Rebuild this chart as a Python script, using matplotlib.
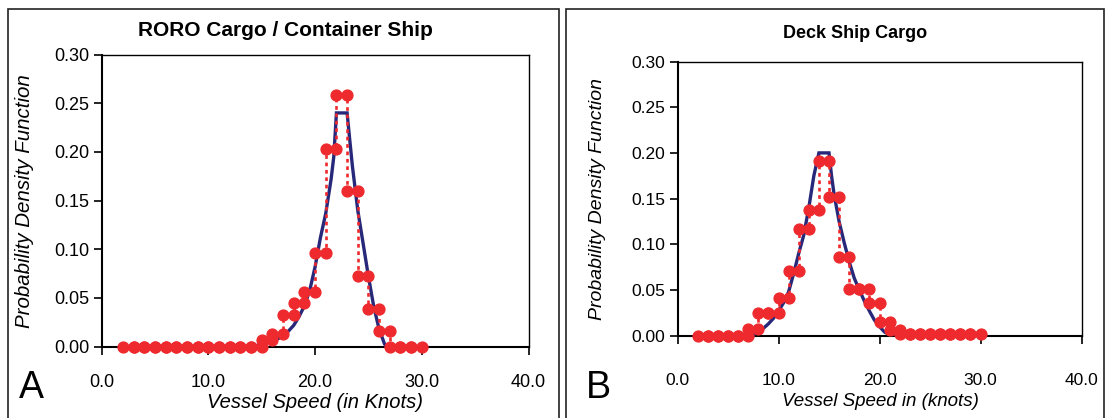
import numpy as np
import matplotlib
matplotlib.use("Agg")
import matplotlib.pyplot as plt
import matplotlib.patches as mpatches

plt.rcParams['font.family'] = ['Liberation Sans', 'DejaVu Sans']

# bin edges (knots) and observed densities per 1-knot bin
bin_left = np.arange(2, 30)

# A: RORO cargo / container ship
obs_A = [0, 0, 0, 0, 0, 0, 0, 0, 0, 0, 0, 0, 0,
         0.007, 0.0135, 0.0325, 0.045, 0.0565, 0.0965, 0.203, 0.258,
         0.160, 0.0726, 0.039, 0.0164, 0, 0, 0]
fit_x_A = [13.5, 14.0, 15.0, 15.5, 16.0, 16.5, 17.0, 17.5, 18.0, 18.5, 19.0,
           19.5, 20.0, 20.5, 21.0, 21.5, 21.75, 22.0, 22.5, 23.0, 23.25,
           23.5, 24.0, 24.5, 25.0, 25.5, 26.0, 26.5, 26.7]
fit_y_A = [0.0, 0.0005, 0.002, 0.004, 0.006, 0.008, 0.011, 0.016, 0.022,
           0.031, 0.042, 0.058, 0.082, 0.112, 0.137, 0.172, 0.195, 0.240,
           0.240, 0.240, 0.212, 0.185, 0.140, 0.106, 0.072, 0.041, 0.018,
           0.003, 0.0]

# B: deck ship cargo
obs_B = [0, 0, 0, 0, 0, 0.0073, 0.0245, 0.0245, 0.0415, 0.0707, 0.1166,
         0.1374, 0.191, 0.152, 0.0863, 0.0507, 0.0507, 0.0354, 0.0145,
         0.0062, 0.0015, 0.0015, 0.0015, 0.0015, 0.0015, 0.0015, 0.0015,
         0.0015]
fit_x_B = [7.0, 7.5, 8.0, 8.5, 9.0, 9.5, 10.0, 10.5, 11.0, 11.5, 12.0, 12.5,
           13.0, 13.5, 14.0, 14.5, 15.0, 15.25, 15.5, 16.0, 16.5, 17.0, 17.5,
           18.0, 18.5, 19.0, 19.5, 20.0, 20.5, 21.0, 21.3]
fit_y_B = [0.0, 0.001, 0.004, 0.008, 0.013, 0.019, 0.027, 0.036, 0.048,
           0.068, 0.090, 0.110, 0.140, 0.175, 0.200, 0.200, 0.200, 0.175,
           0.155, 0.125, 0.102, 0.081, 0.063, 0.050, 0.038, 0.027, 0.017,
           0.010, 0.004, 0.001, 0.0]

x_ticks = [0, 10, 20, 30, 40]
y_ticks = [0.0, 0.05, 0.10, 0.15, 0.20, 0.25, 0.30]

RED = '#EE2A2E'
NAVY = '#27287A'
W, H = 1110, 418


def steps(edges, vals):
    xs, ys = [], []
    for x0, v in zip(edges, vals):
        xs += [x0, x0 + 1]
        ys += [v, v]
    return xs, ys


def draw_panel(ax, obs, fx, fy, fs_tick, pad_x):
    ax.plot(fx, fy, color=NAVY, lw=2.4, zorder=3, solid_joinstyle='miter')
    sx, sy = steps(bin_left, obs)
    ax.plot(sx, sy, color=RED, lw=1.9, ls=(0, (1.4, 1.4)), marker='o',
            ms=7.8, mec=RED, mfc=RED, zorder=4, clip_on=False)
    ax.set_xlim(0, 40)
    ax.set_ylim(0, 0.30)
    ax.set_xticks(x_ticks)
    ax.set_xticklabels([f'{v:.1f}' for v in x_ticks])
    ax.set_yticks(y_ticks)
    ax.set_yticklabels([f'{v:.2f}' for v in y_ticks])
    ax.tick_params(axis='both', direction='out', length=6, width=1.2,
                   labelsize=fs_tick, color='black')
    ax.tick_params(axis='x', pad=pad_x)
    ax.tick_params(axis='y', pad=3)
    for s in ['left', 'bottom']:
        ax.spines[s].set_linewidth(1.5)
    for s in ['top', 'right']:
        ax.spines[s].set_linewidth(1.0)


fig = plt.figure(figsize=(W / 100, H / 100), dpi=100)

axA = fig.add_axes([101.7 / W, 1 - 346.7 / H, 426.8 / W, 292.2 / H])
draw_panel(axA, obs_A, fit_x_A, fit_y_A, 13, 14)
axB = fig.add_axes([677.5 / W, 1 - 335.7 / H, 404 / W, 274.2 / H])
draw_panel(axB, obs_B, fit_x_B, fit_y_B, 12.5, 21)

# panel frames
for x0, x1 in [(8, 559), (566, 1104)]:
    fig.patches.append(mpatches.Rectangle(
        (x0 / W, -0.05), (x1 - x0) / W, 1.05 - 9 / H, fill=False,
        lw=1.2, ec='#222222', transform=fig.transFigure, figure=fig))

fig.text(285 / W, 1 - 30 / H, 'RORO Cargo / Container Ship', ha='center',
         va='center', fontsize=15, fontweight='bold')
fig.text(855 / W, 1 - 33 / H, 'Deck Ship Cargo', ha='center', va='center',
         fontsize=13, fontweight='bold')

fig.text(315 / W, 1 - 402 / H, 'Vessel Speed (in Knots)', ha='center',
         va='center', fontsize=14.5, style='italic')
fig.text(880 / W, 1 - 402 / H, 'Vessel Speed in (knots)', ha='center',
         va='center', fontsize=13.5, style='italic')

fig.text(25 / W, 1 - 201 / H, 'Probability Density Function', ha='center',
         va='center', rotation=90, fontsize=14.8, style='italic')
fig.text(598 / W, 1 - 199 / H, 'Probability Density Function', ha='center',
         va='center', rotation=90, fontsize=14, style='italic')

fig.text(19 / W, 1 - 398 / H, 'A', ha='left', va='baseline', fontsize=27)
fig.text(586 / W, 1 - 398 / H, 'B', ha='left', va='baseline', fontsize=27)

fig.savefig('out.png', dpi=100)
